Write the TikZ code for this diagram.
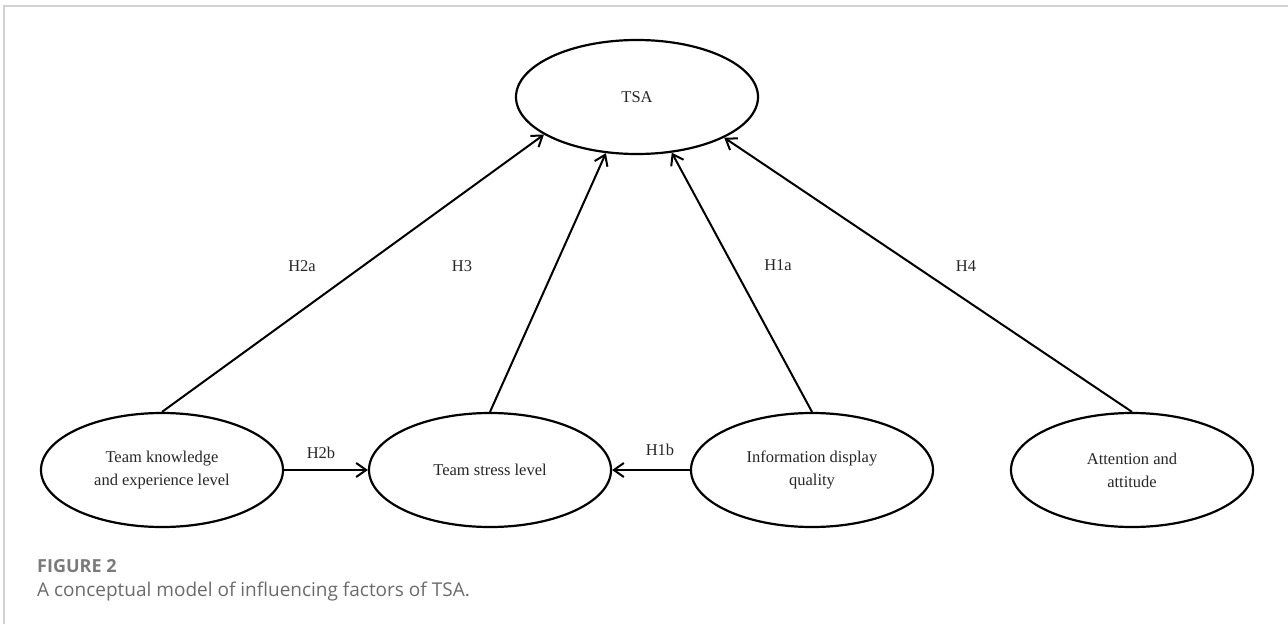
\documentclass[tikz,border=0pt]{standalone}
\usepackage{fontspec}
\setmainfont{Liberation Serif}
\newfontfamily\capfont{Open Sans}
\usetikzlibrary{shapes.geometric,arrows.meta}
\definecolor{capgray}{HTML}{6B6B6B}
\definecolor{rulegray}{HTML}{D2D2D2}
\begin{document}
\begin{tikzpicture}[x=1pt,y=-1pt,
  factor/.style={ellipse,draw,line width=2.2pt,minimum width=242pt,minimum height=114pt,
    inner sep=0pt,align=center,text=black!85,font=\fontsize{16.5}{23}\selectfont},
  link/.style={line width=2pt,-{Straight Barb[length=10pt,width=14pt,line width=2pt]}},
  hyp/.style={inner sep=0pt,text=black!85,font=\fontsize{16.5}{20}\selectfont},
  caphead/.style={anchor=base west,inner sep=0pt,text=capgray!90,font=\capfont\bfseries\fontsize{18}{22}\selectfont},
  captext/.style={anchor=base west,inner sep=0pt,text=capgray,font=\capfont\fontsize{19}{22}\selectfont}]
\useasboundingbox (0,0) rectangle (1288,624);

% frame edges
\coordinate (fl) at (3.5,624);
\coordinate (fc) at (3.5,5.5);
\coordinate (fr) at (1288,5.5);
\draw[rulegray,line width=2pt] (fl) -- (fc) -- (fr);

% factors
\node[factor] (tsa) at (637,97) {TSA};
\node[factor] (tk) at (162,470) {Team knowledge\\and experience level};
\node[factor] (stress) at (490,470) {Team stress level};
\node[factor] (info) at (812,470) {Information display\\quality};
\node[factor] (att) at (1132,470) {Attention and\\attitude};

% hypothesised paths (end points on the TSA border, given as angles)
\draw[link] (tk.north) -- (tsa.202.4);
\draw[link] (stress.north) -- (tsa.241.4);
\draw[link] (info.north) -- (tsa.302.2);
\draw[link] (att.north) -- (tsa.335.6);
\draw[link] (tk.east) -- (stress.west);
\draw[link] (info.west) -- (stress.east);

% path labels
\node[hyp] (h2a) at (302,266) {H2a};
\node[hyp] (h3) at (462,266) {H3};
\node[hyp] (h1a) at (778,265) {H1a};
\node[hyp] (h4) at (966,266) {H4};
\node[hyp] (h2b) at (321,453) {H2b};
\node[hyp] (h1b) at (660,450) {H1b};

% caption
\node[caphead] (fig) at (37,572) {FIGURE 2};
\node[captext] (cap) at (37,596) {A conceptual model of influencing factors of TSA.};
\end{tikzpicture}
\end{document}
